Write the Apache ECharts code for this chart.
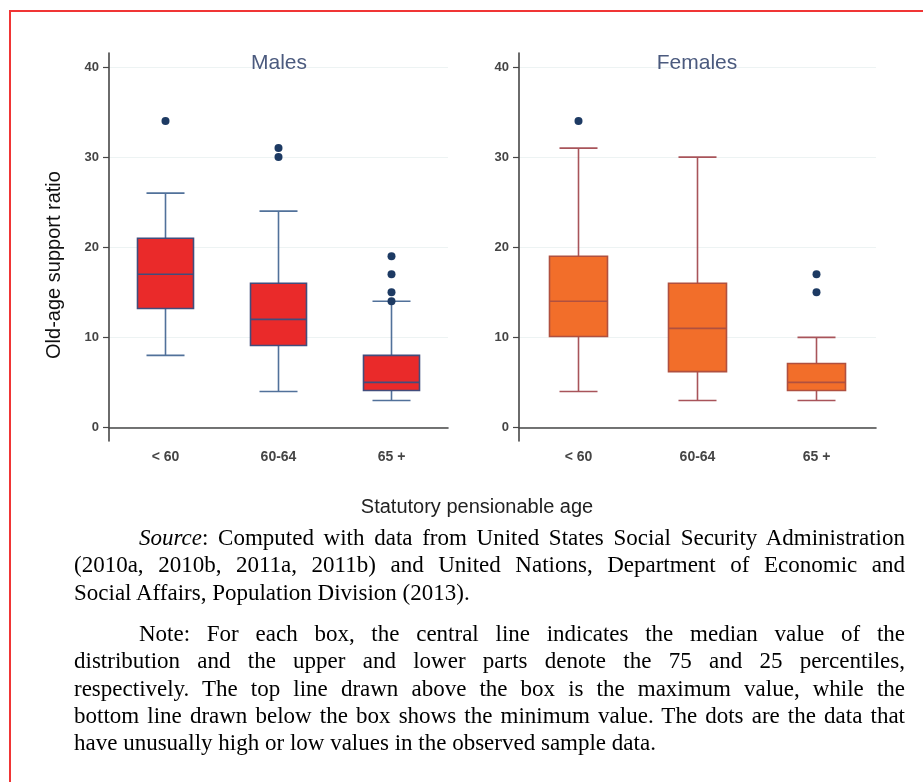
<!DOCTYPE html>
<html>
<head>
<meta charset="utf-8">
<script src="https://cdn.jsdelivr.net/npm/echarts@6/dist/echarts.min.js"></script>
<style>
  html, body { margin: 0; padding: 0; background: #fff; }
  #wrap { position: relative; width: 923px; height: 782px; overflow: hidden; }
  #chart { position: absolute; left: 0; top: 0; width: 923px; height: 782px; }
  #frame { position: absolute; left: 9px; top: 10px; width: 940px; height: 800px;
           border-top: 2.5px solid #f03535; border-left: 2.5px solid #f03535; box-sizing: border-box; }
  .para { position: absolute; left: 74px; width: 831px; font-family: "Liberation Serif", "Times New Roman", serif;
          font-size: 23px; line-height: 27.3px; color: #000; }
  .l { white-space: nowrap; }
  .j { text-align: justify; text-align-last: justify; }
</style>
</head>
<body>
<div id="wrap">
  <div id="frame"></div>
  <div id="chart"></div>
  <div class="para" style="top:524px">
    <div class="l j" style="text-indent:65px"><i>Source</i>: Computed with data from United States Social Security Administration</div>
    <div class="l j">(2010a, 2010b, 2011a, 2011b) and United Nations, Department of Economic and</div>
    <div class="l">Social Affairs, Population Division (2013).</div>
  </div>
  <div class="para" style="top:620px">
    <div class="l j" style="text-indent:65px">Note: For each box, the central line indicates the median value of the</div>
    <div class="l j">distribution and the upper and lower parts denote the 75 and 25 percentiles,</div>
    <div class="l j">respectively. The top line drawn above the box is the maximum value, while the</div>
    <div class="l j">bottom line drawn below the box shows the minimum value. The dots are the data that</div>
    <div class="l">have unusually high or low values in the observed sample data.</div>
  </div>
</div>
<script>
// ---- data ----
const categories = ['< 60', '60-64', '65 +'];
const yTicks = [0, 10, 20, 30, 40];
// [min, Q1, median, Q3, max]
const malesStats = [[8, 13.2, 17, 21, 26], [4, 9.1, 12, 16, 24], [3, 4.1, 5, 8, 14]];
const femalesStats = [[4, 10.1, 14, 19, 31], [3, 6.2, 11, 16, 30], [3, 4.1, 5, 7.1, 10]];
// [categoryIndex, value]
const malesOutliers = [[0, 34], [1, 31], [1, 30], [2, 19], [2, 17], [2, 15], [2, 14]];
const femalesOutliers = [[0, 34], [2, 17], [2, 15]];
const panelTitles = ['Males', 'Females'];

// ---- chart ----
const chart = echarts.init(document.getElementById('chart'), null, { renderer: 'canvas' });
const FONT = '"Liberation Sans", Arial, sans-serif';

function yAxisDef(idx) {
  return {
    type: 'value', gridIndex: idx, min: -1.5, max: 41.55,
    axisLine: { show: true, lineStyle: { color: '#474747', width: 1.6 } },
    axisTick: { show: true, length: 6, customValues: yTicks, lineStyle: { color: '#474747', width: 1.2 } },
    axisLabel: { customValues: yTicks, fontFamily: FONT, fontSize: 13, fontWeight: 'bold', color: '#454545', margin: 10 },
    splitLine: { show: true, lineStyle: { color: '#edf3f3', width: 1.2 } }
  };
}
function xAxisDef(idx) {
  return {
    type: 'category', gridIndex: idx, data: categories, boundaryGap: true,
    axisLine: { show: true, lineStyle: { color: '#474747', width: 1.6 } },
    axisTick: { show: false },
    axisLabel: { fontFamily: FONT, fontSize: 14, fontWeight: 'bold', color: '#454545', margin: 9 },
    splitLine: { show: false }
  };
}

const panels = [
  { stats: malesStats, out: malesOutliers, fill: '#ea2a2a', border: '#424d7c', whisker: '#51719a', box: 56, cap: 38 },
  { stats: femalesStats, out: femalesOutliers, fill: '#f26e2a', border: '#b0503f', whisker: '#a8545a', box: 58, cap: 38 }
];

function makeRender(p) {
  return function (params, api) {
    const ci = api.value(0);
    const pMin = api.coord([ci, api.value(1)]);
    const pQ1 = api.coord([ci, api.value(2)]);
    const pMed = api.coord([ci, api.value(3)]);
    const pQ3 = api.coord([ci, api.value(4)]);
    const pMax = api.coord([ci, api.value(5)]);
    const cx = pMed[0];
    const hb = p.box / 2, hc = p.cap / 2;
    const wStyle = { stroke: p.whisker, lineWidth: 1.6, fill: null };
    const bStyle = { stroke: p.border, lineWidth: 1.6 };
    return {
      type: 'group',
      children: [
        { type: 'line', shape: { x1: cx, y1: pQ3[1], x2: cx, y2: pMax[1] }, style: wStyle },
        { type: 'line', shape: { x1: cx - hc, y1: pMax[1], x2: cx + hc, y2: pMax[1] }, style: wStyle },
        { type: 'line', shape: { x1: cx, y1: pQ1[1], x2: cx, y2: pMin[1] }, style: wStyle },
        { type: 'line', shape: { x1: cx - hc, y1: pMin[1], x2: cx + hc, y2: pMin[1] }, style: wStyle },
        { type: 'rect', shape: { x: cx - hb, y: pQ3[1], width: p.box, height: pQ1[1] - pQ3[1] },
          style: { fill: p.fill, stroke: p.border, lineWidth: 1.6 } },
        { type: 'line', shape: { x1: cx - hb, y1: pMed[1], x2: cx + hb, y2: pMed[1] }, style: bStyle }
      ]
    };
  };
}

const series = [];
panels.forEach((p, i) => {
  series.push({
    type: 'custom', xAxisIndex: i, yAxisIndex: i,
    data: p.stats.map((s, k) => [k].concat(s)),
    encode: { x: 0, y: [1, 2, 3, 4, 5] },
    renderItem: makeRender(p), z: 3, silent: true
  });
  series.push({
    type: 'scatter', xAxisIndex: i, yAxisIndex: i, data: p.out, symbol: 'circle', symbolSize: 8,
    itemStyle: { color: '#1d3a63', opacity: 1 }, z: 4, silent: true
  });
});

chart.setOption({
  animation: false,
  backgroundColor: 'transparent',
  grid: [
    { left: 109, right: 475, top: 53, bottom: 341 },
    { left: 519, right: 47, top: 53, bottom: 341 }
  ],
  xAxis: [xAxisDef(0), xAxisDef(1)],
  yAxis: [yAxisDef(0), yAxisDef(1)],
  series: series,
  graphic: [
    { type: 'text', z: 100, x: 279, y: 63, style: { text: panelTitles[0], font: '21px ' + FONT, fill: '#4b5a7e', textAlign: 'center', textVerticalAlign: 'middle' } },
    { type: 'text', z: 100, x: 697, y: 63, style: { text: panelTitles[1], font: '21px ' + FONT, fill: '#4b5a7e', textAlign: 'center', textVerticalAlign: 'middle' } },
    { type: 'text', z: 100, x: 54, y: 265, rotation: Math.PI / 2, style: { text: 'Old-age support ratio', font: '20px ' + FONT, fill: '#111', textAlign: 'center', textVerticalAlign: 'middle' } },
    { type: 'text', z: 100, x: 477, y: 507, style: { text: 'Statutory pensionable age', font: '20px ' + FONT, fill: '#222', textAlign: 'center', textVerticalAlign: 'middle' } }
  ]
});
</script>
</body>
</html>
